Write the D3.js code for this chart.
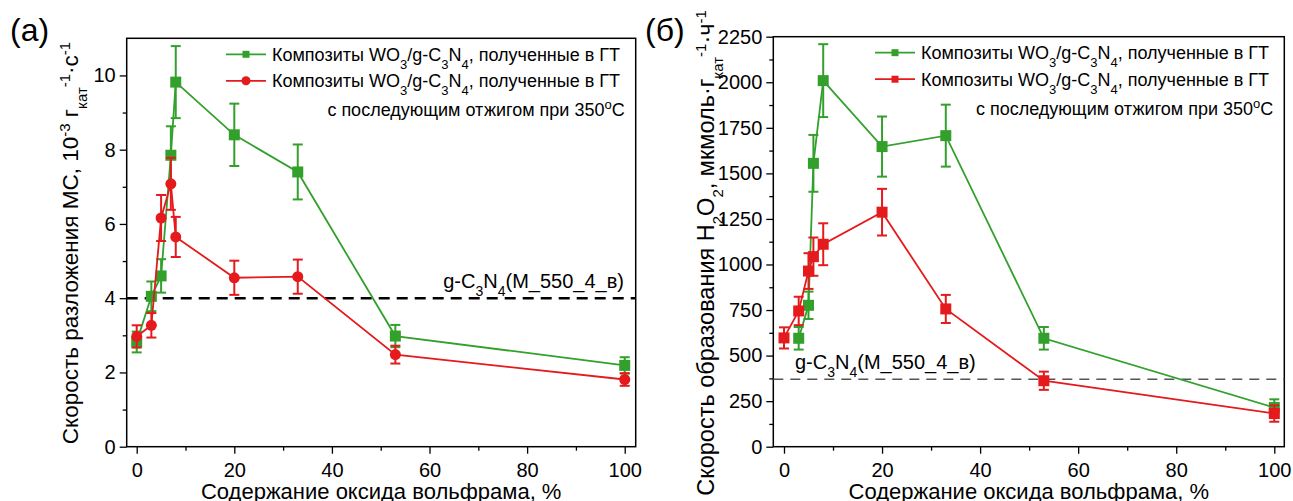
<!DOCTYPE html>
<html>
<head>
<meta charset="utf-8">
<script src="https://cdn.jsdelivr.net/npm/d3@7"></script>
<style>
  body { margin: 0; background: #fff; }
  svg { display: block; font-family: Arial, "Liberation Sans", sans-serif; }
</style>
</head>
<body>
<script>
// panel (a): MC decomposition rate, 10^-3 g^-1 s^-1
var xA_green = [0, 3, 5, 7, 8, 20, 33, 53, 100]
var yA_green = [2.82, 4.05, 4.6, 7.85, 9.82, 8.4, 7.4, 2.98, 2.19]
var eA_green = [0.28, 0.4, 0.45, 0.78, 0.97, 0.84, 0.74, 0.3, 0.22]
var xA_red = [0, 3, 5, 7, 8, 20, 33, 53, 100]
var yA_red = [2.97, 3.27, 6.16, 7.08, 5.65, 4.55, 4.58, 2.48, 1.81]
var eA_red = [0.3, 0.33, 0.62, 0.7, 0.54, 0.46, 0.46, 0.24, 0.17]
var refA = 4

// panel (б): H2O2 formation rate, umol g^-1 h^-1
var xB_green = [3, 5, 6, 8, 20, 33, 53, 100]
var yB_green = [595, 776, 1555, 2009, 1647, 1707, 595, 215]
var eB_green = [62, 75, 156, 200, 165, 170, 62, 45]
var xB_red = [0, 3, 5, 6, 8, 20, 33, 53, 100]
var yB_red = [597, 745, 964, 1043, 1111, 1287, 756, 362, 182]
var eB_red = [58, 78, 98, 105, 115, 128, 77, 50, 45]
var refB = 370

var xMajor = [0, 20, 40, 60, 80, 100]
var xMinor = [10, 30, 50, 70, 90]
var yA_major = [0, 2, 4, 6, 8, 10]
var yA_minor = [1, 3, 5, 7, 9]
var yB_major = [0, 250, 500, 750, 1000, 1250, 1500, 1750, 2000, 2250]
var yB_minor = [125, 375, 625, 875, 1125, 1375, 1625, 1875, 2125]

var GREEN = '#33a02c'
var RED = '#e41a1c'

var svg = d3.select('body').append('svg')
    .attr('width', 1293)
    .attr('height', 501)

function pack(xs, ys, es) {
  return xs.map(function(x, i) { return {x: x, y: ys[i], e: es[i]} })
}

// adds text pieces with sub/superscripts
function rich(sel, parts, small) {
  parts.forEach(function(p) {
    var t = sel.append('tspan').text(p[0])
    if (p[1] == 'sub') t.attr('baseline-shift', 'sub').attr('font-size', small)
    if (p[1] == 'sup') t.attr('baseline-shift', 'super').attr('font-size', small)
  })
}

var legendParts = [['Композиты WO'], ['3', 'sub'], ['/g-C'], ['3', 'sub'], ['N'], ['4', 'sub'], [', полученные в ГТ']]
var refParts = [['g-C'], ['3', 'sub'], ['N'], ['4', 'sub'], ['(M_550_4_в)']]

function drawPanel(o) {
  var g = svg.append('g')
  var x = d3.scaleLinear().domain(o.xDomain).range([o.left, o.right])
  var y = d3.scaleLinear().domain(o.yDomain).range([o.bottom, o.top])

  // axes
  g.append('g').attr('transform', 'translate(0,' + o.bottom + ')')
    .call(d3.axisBottom(x).tickValues(xMinor).tickSize(4).tickFormat(''))
  g.append('g').attr('transform', 'translate(0,' + o.bottom + ')')
    .call(d3.axisBottom(x).tickValues(xMajor).tickSize(7).tickPadding(9))
  g.append('g').attr('transform', 'translate(' + o.left + ',0)')
    .call(d3.axisLeft(y).tickValues(o.yMinor).tickSize(4).tickFormat(''))
  g.append('g').attr('transform', 'translate(' + o.left + ',0)')
    .call(d3.axisLeft(y).tickValues(o.yMajor).tickSize(7).tickPadding(4).tickFormat(d3.format('d')))
  g.selectAll('.domain').remove()
  g.selectAll('.tick line').attr('stroke', '#000').attr('stroke-width', 1.3)
  g.selectAll('.tick text').attr('font-size', 20).attr('fill', '#000')
    .attr('font-family', 'Arial, "Liberation Sans", sans-serif')

  g.append('rect')
    .attr('x', o.left).attr('y', o.top)
    .attr('width', o.right - o.left).attr('height', o.bottom - o.top)
    .attr('fill', 'none').attr('stroke', '#000').attr('stroke-width', 1.5)

  // reference line
  g.append('line')
    .attr('x1', o.left).attr('x2', o.right)
    .attr('y1', y(o.ref)).attr('y2', y(o.ref))
    .attr('stroke', o.refColor).attr('stroke-width', o.refWidth)
    .attr('stroke-dasharray', o.refDash)
  var rt = g.append('text')
    .attr('x', o.refLabelX).attr('y', o.refLabelY)
    .attr('text-anchor', o.refAnchor)
    .attr('font-size', 20)
  rich(rt, refParts, 14)

  var line = d3.line().x(function(d) { return x(d.x) }).y(function(d) { return y(d.y) })

  o.series.forEach(function(s) {
    var sg = g.append('g')
    sg.append('path').datum(s.data)
      .attr('d', line).attr('fill', 'none')
      .attr('stroke', s.color).attr('stroke-width', 1.8)
    var eb = sg.selectAll('g.err').data(s.data).enter().append('g')
    eb.append('line')
      .attr('x1', function(d) { return x(d.x) }).attr('x2', function(d) { return x(d.x) })
      .attr('y1', function(d) { return y(d.y - d.e) }).attr('y2', function(d) { return y(d.y + d.e) })
    eb.append('line')
      .attr('x1', function(d) { return x(d.x) - 5 }).attr('x2', function(d) { return x(d.x) + 5 })
      .attr('y1', function(d) { return y(d.y + d.e) }).attr('y2', function(d) { return y(d.y + d.e) })
    eb.append('line')
      .attr('x1', function(d) { return x(d.x) - 5 }).attr('x2', function(d) { return x(d.x) + 5 })
      .attr('y1', function(d) { return y(d.y - d.e) }).attr('y2', function(d) { return y(d.y - d.e) })
    eb.selectAll('line').attr('stroke', s.color).attr('stroke-width', 2)
    if (s.shape == 'circle') {
      sg.selectAll('circle').data(s.data).enter().append('circle')
        .attr('cx', function(d) { return x(d.x) }).attr('cy', function(d) { return y(d.y) })
        .attr('r', 5.5).attr('fill', s.color)
    } else {
      sg.selectAll('rect').data(s.data).enter().append('rect')
        .attr('x', function(d) { return x(d.x) - 5.5 }).attr('y', function(d) { return y(d.y) - 5.5 })
        .attr('width', 11).attr('height', 11).attr('fill', s.color)
    }
  })

  // legend
  var lx = o.legendX, ly = o.top
  o.series.forEach(function(s, i) {
    var yy = ly + 16 + i * 26.5
    g.append('line').attr('x1', lx).attr('x2', lx + 40).attr('y1', yy).attr('y2', yy)
      .attr('stroke', s.color).attr('stroke-width', 1.8)
    if (s.shape == 'circle') {
      g.append('circle').attr('cx', lx + 20).attr('cy', yy).attr('r', 4.5).attr('fill', s.color)
    } else {
      g.append('rect').attr('x', lx + 16.5).attr('y', yy - 3.5).attr('width', 7).attr('height', 7).attr('fill', s.color)
    }
    var t = g.append('text').attr('x', lx + 46).attr('y', yy + 6.5).attr('font-size', 18)
    rich(t, legendParts, 13)
  })
  var t3 = g.append('text').attr('x', o.right - 11).attr('y', ly + 78)
    .attr('text-anchor', 'end').attr('font-size', 18)
  rich(t3, [['с последующим отжигом при 350'], ['o', 'sup'], ['C']], 13)

  // axis titles
  g.append('text')
    .attr('x', (o.left + o.right) / 2).attr('y', 499)
    .attr('text-anchor', 'middle').attr('font-size', 22)
    .text('Содержание оксида вольфрама, %')
  var yt = g.append('text')
    .attr('transform', 'translate(' + o.yTitleX + ',' + o.yTitleY + ') rotate(-90)')
    .attr('text-anchor', 'middle').attr('font-size', o.yTitleSize)
  rich(yt, o.yTitle, 15)

  svg.append('text').attr('x', o.tagX).attr('y', 41).attr('font-size', 32).text(o.tag)
}

drawPanel({
  left: 126.7, right: 635.7, top: 38.3, bottom: 446.7,
  xDomain: [-2.05, 102.25], yDomain: [0, 11],
  yMajor: yA_major, yMinor: yA_minor,
  ref: refA, refColor: '#000', refWidth: 2.5, refDash: '11,7',
  refLabelX: 624, refLabelY: 288, refAnchor: 'end',
  legendX: 226,
  series: [
    {data: pack(xA_green, yA_green, eA_green), color: GREEN, shape: 'square'},
    {data: pack(xA_red, yA_red, eA_red), color: RED, shape: 'circle'}
  ],
  yTitle: [['Скорость разложения МС, 10'], ['-3', 'sup'], [' г'], ['кат', 'sub'], ['-1', 'sup'], ['·с'], ['-1', 'sup']],
  yTitleX: 78, yTitleY: 243, yTitleSize: 22.5,
  tag: '(a)', tagX: 10
})

drawPanel({
  left: 773.3, right: 1284.3, top: 36.7, bottom: 446.7,
  xDomain: [-2.18, 102.04], yDomain: [0, 2250],
  yMajor: yB_major, yMinor: yB_minor,
  ref: refB, refColor: '#555', refWidth: 1.6, refDash: '10,7',
  refLabelX: 795, refLabelY: 369, refAnchor: 'start',
  legendX: 875,
  series: [
    {data: pack(xB_green, yB_green, eB_green), color: GREEN, shape: 'square'},
    {data: pack(xB_red, yB_red, eB_red), color: RED, shape: 'square'}
  ],
  yTitle: [['Скорость образования H'], ['2', 'sub'], ['O'], ['2', 'sub'], [', мкмоль·г'], ['кат', 'sub'], ['-1', 'sup'], ['·ч'], ['-1', 'sup']],
  yTitleX: 714, yTitleY: 253, yTitleSize: 23.5,
  tag: '(б)', tagX: 645
})
</script>
</body>
</html>
